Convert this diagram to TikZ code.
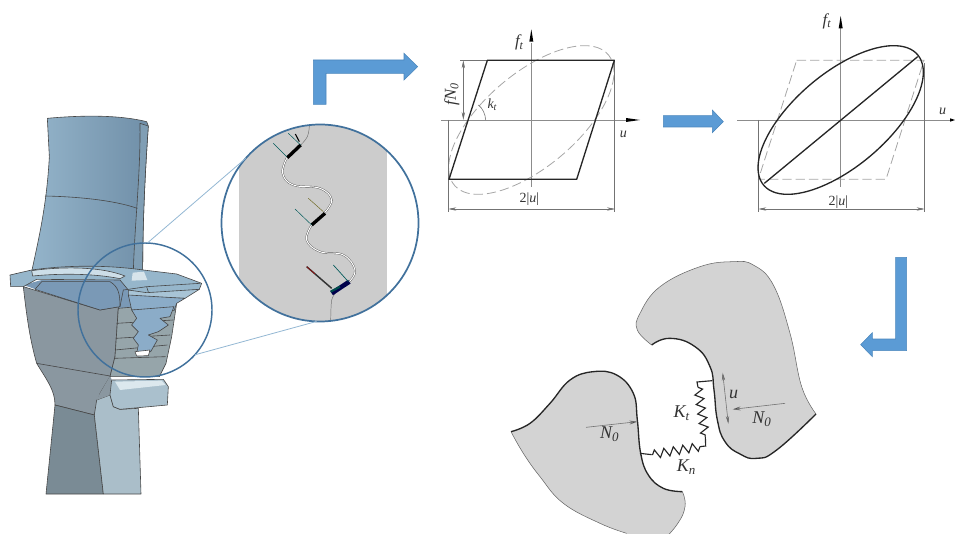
\documentclass[tikz,border=0pt]{standalone}
\usepackage{fontspec}
\setmainfont{Liberation Serif}
\usetikzlibrary{decorations.pathmorphing,arrows.meta}
\definecolor{arrowblue}{HTML}{5B9BD5}
\definecolor{arrowedge}{HTML}{4A86BC}
\definecolor{ringblue}{HTML}{41719C}
\definecolor{leadblue}{HTML}{93B7D3}
\definecolor{plategrey}{HTML}{D3D3D3}
\definecolor{bigrey}{HTML}{CCCCCC}
\definecolor{axisgrey}{HTML}{8C8C8C}
\definecolor{dashgrey}{HTML}{A6A6A6}
\tikzset{
  zoomed/.style={x=.25pt,y=-.25pt},
  bigarrow/.style={fill=arrowblue,draw=arrowedge,line width=.4pt},
  edge/.style={draw=black!72,line width=.45pt,line join=round},
  axisline/.style={draw=axisgrey,line width=.5pt},
  guide/.style={draw=black!55,line width=.45pt},
  heavy/.style={draw=black!85,line width=1pt,line join=round},
  lightdash/.style={draw=dashgrey,line width=.6pt,dash pattern=on 7pt off 3pt},
  tip/.style={-{Stealth[length=6pt,width=3pt,fill=black]}},
  tips/.style={{Stealth[length=6pt,width=2.5pt,fill=black]}-{Stealth[length=6pt,width=2.5pt,fill=black]}},
  lab/.style={inner sep=0pt,font=\fontsize{10.5}{12}\selectfont\itshape,text=black!80},
  flab/.style={inner sep=0pt,font=\fontsize{12.5}{14}\selectfont\itshape,text=black!80},
  biglab/.style={inner sep=0pt,font=\fontsize{13.5}{15}\selectfont\itshape,text=black!80},
  plate/.style={fill=plategrey},
  spring/.style={draw=black!85,line width=.85pt,decorate,decoration={zigzag,amplitude=3.2pt,segment length=7.2pt}},
  scar/.style={line width=2.5pt,draw=black},
  wisp/.style={line width=.35pt}
}
\newcommand{\sbs}[2]{#1\raisebox{-.35ex}{\scalebox{.72}{#2}}}
\begin{document}
\begin{tikzpicture}[x=.75pt,y=-.75pt]
\useasboundingbox (0,0) rectangle (955,534);
\clip (0,0) rectangle (955,534);
% ---------- blade
\begin{scope}[shift={(0,90)},zoomed]
  \path[edge,left color={rgb,255:red,148;green,180;blue,202},middle color={rgb,255:red,152;green,184;blue,206},right color={rgb,255:red,112;green,143;blue,168}]
    (142,85) .. controls (250,75) and (360,75) .. (440,95) -- (445,108)
    .. controls (435,250) and (428,400) .. (428,545) -- (95,545)
    .. controls (115,450) and (140,350) .. (148,200) -- cycle;
  \path[edge,fill={rgb,255:red,128;green,158;blue,180}] (420,100) -- (445,108) .. controls (435,250) and (428,400) .. (428,545) -- (400,545) .. controls (404,400) and (422,250) .. cycle;
  \draw[edge] (135,318) .. controls (230,320) and (340,330) .. (412,355);
  % base fill under the platform
  \path[fill={rgb,255:red,122;green,153;blue,182}] (70,585) -- (125,570) -- (395,570) -- (400,665) -- (300,665) -- cycle;
  % grey body
  \path[edge,fill={rgb,255:red,138;green,151;blue,160}] (70,590) -- (300,660) -- (355,650) -- (345,800) -- (330,860) -- (300,910) -- (283,975) -- (165,945) .. controls (165,900) and (140,870) .. (110,820) .. controls (90,750) and (80,680) .. cycle;
  \draw[edge] (110,820) -- (330,858);
  % stems
  \path[edge,fill={rgb,255:red,122;green,139;blue,149}] (165,945) -- (283,975) -- (310,1212) -- (138,1212) -- cycle;
  \path[edge,fill={rgb,255:red,170;green,190;blue,201}] (283,975) -- (290,930) -- (330,915) -- (340,950) -- (360,958) -- (415,955) -- (423,1212) -- (310,1212) -- cycle;
  % hook
  \path[fill={rgb,255:red,138;green,151;blue,160}] (330,858) -- (340,880) -- (330,915) -- (290,930) -- (300,910) -- cycle;
  \path[edge,fill={rgb,255:red,170;green,192;blue,205}] (335,870) -- (490,868) -- (505,890) -- (502,945) -- (360,958) -- (340,950) -- (330,915) -- cycle;
  \path[fill={rgb,255:red,220;green,232;blue,238}] (345,875) -- (485,872) -- (497,885) -- (360,900) -- cycle;
  % under-platform pocket
  \path[edge,fill={rgb,255:red,122;green,153;blue,182}] (105,598) -- (125,575) -- (330,575) .. controls (355,590) and (360,610) .. (360,650) -- (300,660) -- cycle;
  % fir-tree block
  \path[edge,fill={rgb,255:red,150;green,165;blue,170}] (355,655) -- (530,640) -- (515,740) -- (498,820) -- (478,860) -- (330,860) -- (345,800) -- cycle;
  \draw[edge] (350,700) -- (520,690) (348,745) -- (510,735) (345,780) -- (502,765) (342,805) -- (497,800);
  \path[edge,fill={rgb,255:red,168;green,196;blue,214}] (385,600) -- (598,598) -- (555,625) -- (385,620) -- cycle;
  \path[edge,fill={rgb,255:red,139;green,172;blue,200}] (385,615) -- (555,625) -- (530,640) -- (522,662) -- (395,660) -- cycle;
  \path[edge,fill={rgb,255:red,139;green,172;blue,200}] (395,660) -- (522,650) -- (510,680) -- (480,685) -- (505,705) -- (475,725) -- (445,735) -- (472,750) -- (452,785) -- (410,790) -- (415,765) -- (400,745) -- (415,725) -- (395,705) -- (410,685) -- cycle;
  \path[edge,fill=white] (405,785) -- (450,780) -- (445,797) -- (410,798) -- cycle;
  % platform
  \path[edge,fill={rgb,255:red,150;green,182;blue,203}] (30,555) -- (95,540) .. controls (180,528) and (300,522) .. (430,540) -- (530,552) -- (605,580) -- (598,598) -- (440,608) -- (385,600) -- (360,570) -- (110,568) -- (70,590) -- (32,590) -- cycle;
  \path[edge,fill={rgb,255:red,205;green,222;blue,232}] (95,542) .. controls (180,530) and (300,528) .. (375,558) -- (360,566) .. controls (280,550) and (180,550) .. (98,558) -- cycle;
  \path[fill={rgb,255:red,215;green,228;blue,235}] (398,548) -- (432,545) -- (442,570) -- (395,572) -- cycle;
  \draw[edge] (385,598) -- (440,590) -- (600,580) (440,590) -- (445,606);
  \draw[edge] (360,650) -- (370,600) -- (385,598);
\end{scope}
% ---------- big circle contents
\begin{scope}
  \clip (320,223) circle (98.5);
  \fill[bigrey] (239,110) rectangle (387,340);
\end{scope}
\begin{scope}[shift={(190,110)},zoomed]
  \foreach \w/\c in {1.3pt/black!70,.75pt/white}{
    \draw[line width=\w,draw=\c] plot[smooth,tension=.7] coordinates {(290,145) (278,190) (310,225) (390,235) (425,270) (402,310)};
    \draw[line width=\w,draw=\c] plot[smooth,tension=.7] coordinates {(365,345) (350,390) (390,425) (460,435) (495,480) (478,515)};
  }
  \draw[wisp,draw=black!55] plot[smooth,tension=.7] coordinates {(358,48) (352,80) (332,105)};
  \draw[wisp,draw=black!55] plot[smooth] coordinates {(440,545) (425,570) (422,635)};
  \draw[scar] (332,105) -- (292,143);
  \draw[scar] (405,310) -- (365,345);
  \draw[scar,line width=3.4pt,draw=black!70!blue] (478,515) -- (425,550);
  \draw[wisp,draw=teal!70!black] (250,100) -- (290,140);
  \draw[wisp,draw=teal!70!black] (295,70) -- (332,105);
  \draw[wisp,draw=olive!70!black] (355,265) -- (400,305);
  \draw[wisp,draw=teal!70!black] (315,297) -- (365,345);
  \draw[line width=1.1pt,draw=black!80] (350,470) -- (425,535);
  \draw[wisp,draw=red!70!black] (350,470) -- (375,492);
  \draw[line width=.5pt,draw=teal!70!black] (430,465) -- (475,515);
  \draw[line width=.8pt,draw=black] (316,72) -- (328,95);
  \draw[line width=1.6pt,draw=teal!60!black] (422,545) -- (450,530);
\end{scope}
% ---------- circles and leaders
\node[circle,draw=ringblue,line width=1.1pt,minimum size=100.5pt,inner sep=0pt,outer sep=0pt] (small) at (145,310) {};
\node[circle,draw=ringblue,line width=1.3pt,minimum size=147.75pt,inner sep=0pt,outer sep=0pt] (big) at (320,223) {};
\draw[leadblue,line width=.6pt] (small.88) -- (big.139);
\draw[leadblue,line width=.6pt] (small.-42) -- (big.-92);
% ---------- block arrows
\begin{scope}[shift={(300,0)},zoomed]
  \path[bigarrow] (40,180) -- (312,180) -- (312,160) -- (353,200) -- (312,240) -- (312,220) -- (78,220) -- (78,313) -- (40,313) -- cycle;
\end{scope}
\begin{scope}[shift={(650,0)},zoomed]
  \path[bigarrow] (40,347) -- (187,347) -- (187,330) -- (220,365) -- (187,398) -- (187,381) -- (40,381) -- cycle;
\end{scope}
\begin{scope}[shift={(500,250)},zoomed]
  \path[bigarrow] (1187,22) -- (1220,22) -- (1220,302) -- (1117,302) -- (1117,320) -- (1082,284) -- (1117,248) -- (1117,267) -- (1187,267) -- cycle;
\end{scope}
% ---------- first chart
\begin{scope}[shift={(300,0)},zoomed]
  \coordinate (a1b) at (694,560);
  \coordinate (a1l) at (423,360);
  \coordinate (d1l) at (445,627); \coordinate (d1r) at (945,627);
  \coordinate (f1t) at (490,181); \coordinate (f1b) at (490,360);
  \draw[axisline] (a1b) -- (694,130);
  \draw[axisline] (a1l) -- (985,360);
  \fill[black] (688,125) -- (694,88) -- (700,125) -- cycle;
  \fill[black] (978,354) -- (1020,360) -- (978,366) -- cycle;
  \draw[lightdash] plot[domain=0:360,samples=72,smooth] ({694+248*cos(\x)},{360-223*cos(\x-50)});
  \draw[guide] (480,181) -- (562,181) (943,181) -- (943,635) (445,360) -- (445,635);
  \draw[guide,tips] (d1l) -- (d1r);
  \draw[guide,tips] (f1t) -- (f1b);
  \draw[guide] (535,315) .. controls (548,325) and (556,342) .. (557,360);
  \draw[heavy] (562,181) -- (943,181) -- (830,538) -- (447,538) -- cycle;
  \node[flab] (ft1) at (657,127) {\sbs{f}{t}};
  \node[flab,rotate=90] (fn) at (455,283) {\sbs{fN}{0}};
  \node[lab] (kt) at (576,315) {\sbs{k}{t}};
  \node[lab] (u1) at (970,403) {u};
  \node[lab] (two1) at (688,598) {\upshape 2|\textit{u}|};
\end{scope}
% ---------- second chart
\begin{scope}[shift={(650,0)},zoomed]
  \coordinate (a2b) at (572,560);
  \coordinate (a2l) at (262,360);
  \coordinate (d2l) at (325,627); \coordinate (d2r) at (824,627);
  \draw[axisline] (a2b) -- (572,85);
  \draw[axisline] (a2l) -- (900,360);
  \fill[black] (566,85) -- (572,48) -- (578,85) -- cycle;
  \fill[black] (900,355) -- (915,360) -- (900,365) -- cycle;
  \draw[lightdash] (440,181) -- (822,181) -- (708,538) -- (325,538) -- cycle;
  \draw[guide] (325,360) -- (325,635) (822,190) -- (822,635);
  \draw[guide,tips] (d2l) -- (d2r);
  \draw[heavy] plot[domain=0:360,samples=90,smooth] ({572+248*cos(\x)},{360-223*cos(\x-50)});
  \draw[heavy] (343,550) -- (803,170);
  \node[flab] (ft2) at (530,63) {\sbs{f}{t}};
  \node[lab] (u2) at (878,335) {u};
  \node[lab] (two2) at (565,605) {\upshape 2|\textit{u}|};
\end{scope}
% ---------- contact sketch
\begin{scope}[shift={(500,250)},zoomed]
  \path[plate] plot[smooth,tension=.8] coordinates {(455,285) (510,265) (585,290) (630,350) (642,420) (652,510) (675,575) (720,612) (770,625) (830,600) (948,492)}
    -- plot[smooth,tension=.7] coordinates {(948,492) (905,410) (870,250) (820,105) (760,45) (700,35) (600,50) (480,110) (420,190) (412,240) (455,285)} -- cycle;
  \draw[draw=black!60,line width=.4pt] plot[smooth,tension=.7] coordinates {(948,492) (905,410) (870,250) (820,105) (760,45) (700,35) (600,50) (480,110) (420,190) (412,240) (455,285)};
  \draw[heavy] plot[smooth,tension=.8] coordinates {(455,285) (510,265) (585,290) (630,350) (642,420) (652,510) (675,575) (720,612) (770,625) (830,600) (948,492)};
  \path[plate] plot[smooth,tension=.7] coordinates {(33,545) (90,520) (150,460) (210,390) (280,365) (350,375) (400,430) (412,510) (422,610) (445,675) (490,715) (547,725)}
    -- plot[smooth,tension=.8] coordinates {(547,725) (555,770) (530,825) (480,880)} -- (380,880) -- plot[smooth,tension=.7] coordinates {(380,850) (300,820) (190,760) (120,680) (70,610) (33,545)} -- cycle;
  \draw[draw=black!60,line width=.4pt] plot[smooth,tension=.8] coordinates {(547,725) (555,770) (530,825) (480,880)};
  \draw[draw=black!60,line width=.4pt] plot[smooth,tension=.7] coordinates {(380,850) (300,820) (190,760) (120,680) (70,610) (33,545)};
  \draw[heavy] plot[smooth,tension=.7] coordinates {(33,545) (90,520) (150,460) (210,390) (280,365) (350,375) (400,430) (412,510) (422,610) (445,675) (490,715) (547,725)};
  % springs
  \coordinate (s0) at (637,392); \coordinate (s1) at (591,396); \coordinate (s2) at (594,412);
  \coordinate (s3) at (616,560); \coordinate (s4) at (617,588); \coordinate (s5) at (600,590);
  \coordinate (s6) at (455,614); \coordinate (s7) at (420,610);
  \draw[draw=black!85,line width=.85pt] (s0) -- (s1) -- (s2) (s3) -- (s4) -- (s5) (s6) -- (s7);
  \draw[spring] (s2) -- (s3);
  \draw[spring] (s5) -- (s6);
  % forces
  \coordinate (nl0) at (258,532); \coordinate (nl1) at (412,515);
  \coordinate (nr0) at (855,460); \coordinate (nr1) at (698,478);
  \coordinate (ua) at (668,368); \coordinate (ub) at (685,522);
  \draw[guide,tip] (nl0) -- (nl1);
  \draw[guide,tip] (nr0) -- (nr1);
  \draw[guide,tips] (ua) -- (ub);
  \node[biglab] (n0l) at (328,552) {\sbs{N}{0}};
  \node[biglab] (n0r) at (785,507) {\sbs{N}{0}};
  \node[biglab] (uu) at (701,433) {u};
  \node[biglab] (kkt) at (544,490) {\sbs{K}{t}};
  \node[biglab] (kkn) at (558,650) {\sbs{K}{n}};
\end{scope}
\end{tikzpicture}
\end{document}
